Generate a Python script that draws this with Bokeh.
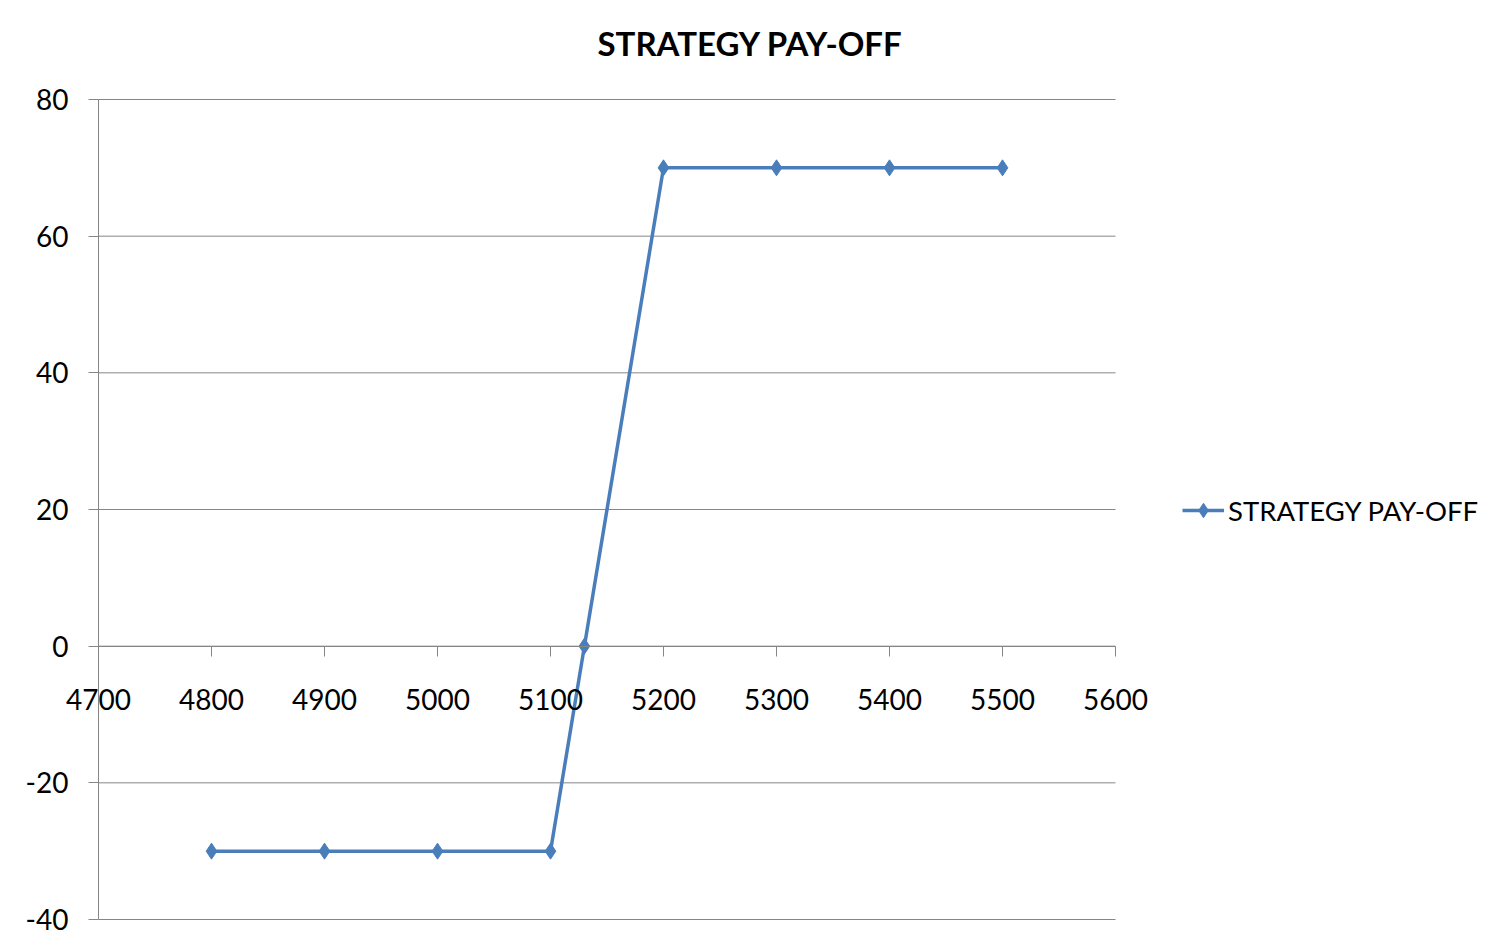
from bokeh.plotting import figure
from bokeh.models import Range1d, FixedTicker, Legend, LegendItem
from bokeh.embed import file_html
from bokeh.resources import INLINE

# data
price = [4800, 4900, 5000, 5100, 5130, 5200, 5300, 5400, 5500]
payoff = [-30, -30, -30, -30, 0, 70, 70, 70, 70]
x_ticks = [4700, 4800, 4900, 5000, 5100, 5200, 5300, 5400, 5500, 5600]
y_ticks = [-40, -20, 0, 20, 40, 60, 80]
series_name = "STRATEGY PAY-OFF"
title_text = "STRATEGY PAY-OFF"

FONT = "Lato"
BLUE = "#4A7EBB"
GRAY = "#868686"

# layout (pixels)
W, H = 1494, 944
TOP = 70                      # frame top
AX_L, AX_R = 98, 1115         # plot-area left / right
AX_T, AX_B = 99, 919          # plot-area top / bottom

x0, x1 = x_ticks[0], x_ticks[-1]
y0, y1 = y_ticks[0], y_ticks[-1]
kx = (AX_R - AX_L) / (x1 - x0)
ky = (AX_B - AX_T) / (y1 - y0)
xr = Range1d(x0 - AX_L / kx, x0 + (W - AX_L) / kx)
yr = Range1d(y0 - (H - AX_B) / ky, y1 + (AX_T - TOP) / ky)

p = figure(width=W, height=H, output_backend="svg", toolbar_location=None,
           x_range=xr, y_range=yr,
           min_border_left=0, min_border_right=0, min_border_top=TOP,
           min_border_bottom=0)
p.outline_line_color = None
p.background_fill_color = "white"
p.border_fill_color = "white"
p.xgrid.visible = False
p.ygrid.visible = False

p.title.text = title_text
p.title.text_font = FONT
p.title.text_font_style = "bold"
p.title.text_font_size = "33px"
p.title.text_color = "black"
p.title.align = "left"
p.title.offset = 597
p.title.standoff = 15

# horizontal gridlines across the plot area
n = len(y_ticks)
p.segment(x0=[x0] * n, y0=y_ticks, x1=[x1] * n, y1=y_ticks,
          line_color=GRAY, line_width=1)

xa = p.xaxis[0]
xa.ticker = FixedTicker(ticks=x_ticks)
xa.fixed_location = 0
xa.bounds = (x0, x1)
xa.axis_line_color = GRAY
xa.major_tick_line_color = GRAY
xa.major_tick_in = 0
xa.major_tick_out = 10
xa.minor_tick_line_color = None
xa.major_label_text_font = FONT
xa.major_label_text_font_size = "28px"
xa.major_label_text_color = "black"
xa.major_label_standoff = 33

ya = p.yaxis[0]
ya.ticker = FixedTicker(ticks=y_ticks)
ya.fixed_location = x0
ya.bounds = (y0, y1)
ya.axis_line_color = GRAY
ya.major_tick_line_color = GRAY
ya.major_tick_in = 0
ya.major_tick_out = 10
ya.minor_tick_line_color = None
ya.major_label_text_font = FONT
ya.major_label_text_font_size = "28px"
ya.major_label_text_color = "black"
ya.major_label_standoff = 20
ya.major_label_overrides = {t: str(t) for t in y_ticks}

ln = p.line(price, payoff, line_color=BLUE, line_width=3.5)
mk = p.scatter(price, payoff, marker="diamond", size=16, fill_color=BLUE, line_color=BLUE)

legend = Legend(items=[LegendItem(label=series_name, renderers=[ln, mk])],
                location=(1182, 416), border_line_color=None,
                background_fill_alpha=0, label_text_font=FONT,
                label_text_color="black",
                label_text_font_size="27.5px", glyph_width=42, glyph_height=36,
                label_standoff=4, margin=0, padding=0)
p.add_layout(legend)

open("out.html", "w").write(file_html(p, INLINE))
